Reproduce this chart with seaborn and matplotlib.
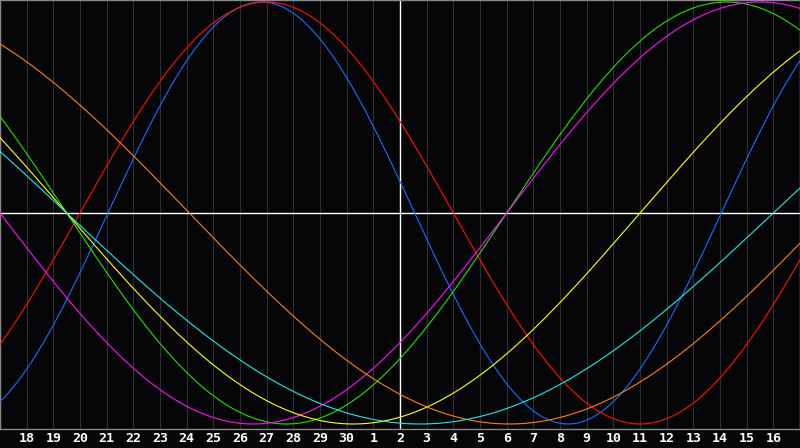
import numpy as np
import pandas as pd
import matplotlib
matplotlib.use("Agg")
import matplotlib.pyplot as plt
import seaborn as sns

# day labels along the bottom (index 0 = the 17th, index 15 = today, the 2nd)
days = [17, 18, 19, 20, 21, 22, 23, 24, 25, 26, 27, 28, 29, 30,
        1, 2, 3, 4, 5, 6, 7, 8, 9, 10, 11, 12, 13, 14, 15, 16, 17]
today = 15

# cycle lengths (days) and the day index where each curve crosses zero going up
cycles = ["physical", "emotional", "intellectual", "intuitive", "aesthetic", "awareness", "spiritual"]
periods = [23, 28, 33, 38, 43, 48, 53]
zero_up = [4.05, 3.0, 19.0, 19.0, 24.0, 31.1, 29.0]
colors = ["#1a6cff", "#ff1010", "#22e000", "#ff10ff", "#ffff10", "#ff8010", "#20e8e8"]

sns.set_style("dark")
fig = plt.figure(figsize=(8, 4.48), dpi=100, facecolor="#050507")
ax = fig.add_axes([0, 19 / 448, 1, 429 / 448])
ax.set_facecolor("#050507")

# day grid
for i in range(len(days)):
    ax.axvline(i, color="#2e2e2e", lw=0.8, zorder=1)

x = np.linspace(0, len(days) - 1, 900)
rows = []
for name, p, z in zip(cycles, periods, zero_up):
    rows.append(pd.DataFrame({"day": x, "value": np.sin(2 * np.pi * (x - z) / p), "cycle": name}))
df = pd.concat(rows)

sns.lineplot(data=df, x="day", y="value", hue="cycle", palette=dict(zip(cycles, colors)),
             linewidth=0.8, legend=False, ax=ax, zorder=3)

ax.axhline(0, color="white", lw=1.0, zorder=2)
ax.axvline(today, color="white", lw=1.0, zorder=2)

ax.set_xlim(0, len(days) - 1)
ax.set_ylim(-1.0237, 1.0095)
ax.set_xticks(range(1, len(days) - 1))
ax.set_xticklabels([str(d) for d in days[1:-1]], color="white", fontsize=9.5,
                   fontweight="bold", family="DejaVu Sans Mono")
ax.tick_params(axis="x", length=0, pad=2.5)
ax.set_yticks([])
ax.set_xlabel("")
ax.set_ylabel("")
ax.grid(False)
for s in ax.spines.values():
    s.set_visible(True)
    s.set_color("#888888")
    s.set_linewidth(1.0)

fig.savefig("out.png", dpi=100, facecolor=fig.get_facecolor())
